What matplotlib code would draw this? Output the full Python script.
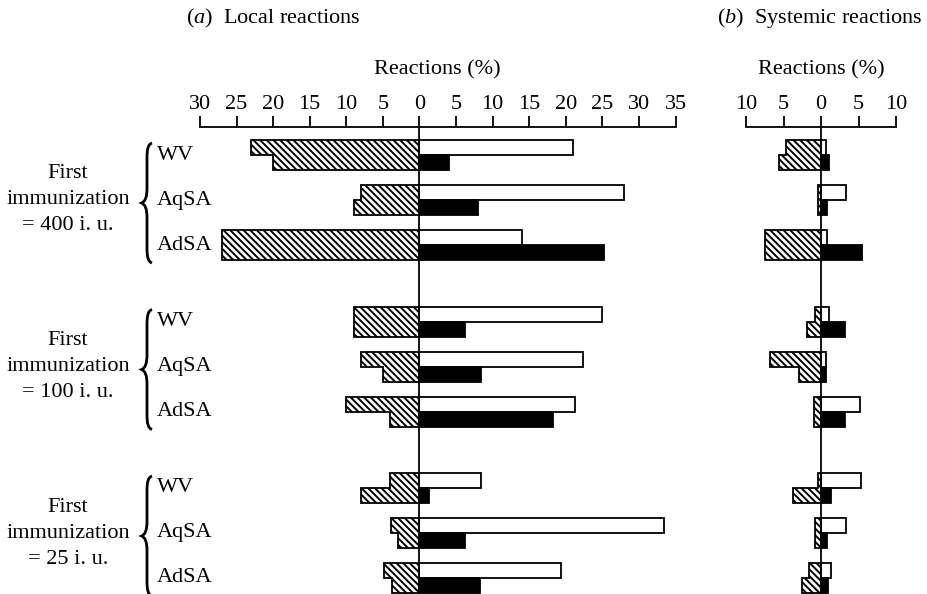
# -*- coding: utf-8 -*-
"""
plot.py
------------------------------------------------------------
Local and systemic reactions after the first immunization,
by dose (400, 100, 25 i.u.) and vaccine (WV, AqSA, AdSA).

Left of zero: hatched bars (two rows per vaccine).
Right of zero: white bar (upper row) and black bar (lower row).

Usage :
  python3 plot.py      -> out.png
"""
import numpy as np
import matplotlib
matplotlib.use("Agg")
import matplotlib.pyplot as plt
import matplotlib.transforms as mtransforms
from matplotlib.path import Path
from matplotlib.patches import PathPatch

# ─────────────────────────────────────────────────────────────────────────────
# Data (percent of reactions)
# ─────────────────────────────────────────────────────────────────────────────

DOSES = ["400", "100", "25"]
VACCINES = ["WV", "AqSA", "AdSA"]

# (a) Local reactions — one inner list per dose, in VACCINES order
LOCAL_HATCH_TOP = [[23, 8, 27], [9, 8, 10], [4, 3.9, 4.8]]
LOCAL_HATCH_BOT = [[20, 9, 27], [9, 5, 4], [8, 3.0, 3.8]]
LOCAL_WHITE = [[21, 28, 14], [25, 22.3, 21.2], [8.4, 33.4, 19.3]]
LOCAL_BLACK = [[4, 8, 25.2], [6.2, 8.4, 18.3], [1.3, 6.2, 8.3]]

# (b) Systemic reactions
SYST_HATCH_TOP = [[4.7, 0.45, 7.5], [0.8, 6.8, 0.9], [0.4, 0.8, 1.6]]
SYST_HATCH_BOT = [[5.6, 0.45, 7.5], [1.9, 3.0, 0.9], [3.7, 0.8, 2.6]]
SYST_WHITE = [[0.7, 3.3, 0.75], [1.0, 0.6, 5.2], [5.3, 3.3, 1.3]]
SYST_BLACK = [[1.0, 0.8, 5.4], [3.2, 0.65, 3.2], [1.3, 0.85, 0.9]]

LOCAL_TICKS = np.arange(-30, 36, 5)
SYST_TICKS = np.arange(-10, 11, 5)

# ─────────────────────────────────────────────────────────────────────────────
# Layout (pixels of the 927 x 594 output)
# ─────────────────────────────────────────────────────────────────────────────

W, H = 927, 594
AXIS_Y = 127            # horizontal axis line, px from top
ROW_PX = 15             # height of one bar
FIRST_TOP = (140 - AXIS_Y) / ROW_PX
VACC_STEP = 3           # rows between vaccines
GROUP_STEP = 11.1       # rows between doses
Y_MAX = (H - AXIS_Y) / ROW_PX

FS = 16
EDGE_LW = 1.3
HATCH = "\\" * 5

plt.rcParams["font.family"] = ["Liberation Serif", "DejaVu Serif"]
plt.rcParams["mathtext.fontset"] = "custom"
plt.rcParams["mathtext.rm"] = "Liberation Serif"
plt.rcParams["mathtext.it"] = "Liberation Serif:italic"
plt.rcParams["hatch.linewidth"] = 1.4
plt.rcParams["hatch.color"] = "black"


def row_tops():
    return [[FIRST_TOP + g * GROUP_STEP + v * VACC_STEP
             for v in range(len(VACCINES))] for g in range(len(DOSES))]


def make_axes(fig, x_left, x_right, ticks):
    ax = fig.add_axes([x_left / W, 0, (x_right - x_left) / W, (H - AXIS_Y) / H])
    ax.set_xlim(ticks[0], ticks[-1])
    ax.set_ylim(Y_MAX, 0)
    for s in ("left", "right", "bottom"):
        ax.spines[s].set_visible(False)
    ax.spines["top"].set_linewidth(EDGE_LW)
    ax.xaxis.tick_top()
    ax.set_xticks(ticks)
    ax.set_xticklabels([f"{abs(t):g}" for t in ticks])
    ax.tick_params(axis="x", direction="out", length=8, width=EDGE_LW,
                   pad=1.5, labelsize=FS)
    ax.set_yticks([])
    ax.patch.set_alpha(0)
    return ax


def draw_panel(ax, hatch_top, hatch_bot, white, black):
    tops = row_tops()
    for g in range(len(DOSES)):
        for v in range(len(VACCINES)):
            t = tops[g][v]
            u, l = hatch_top[g][v], hatch_bot[g][v]
            # hatched part, no stroke; outline drawn as one stepped line
            ax.barh(t + 0.5, -u, height=1, left=0, facecolor="white",
                    edgecolor="black", linewidth=0, hatch=HATCH)
            ax.barh(t + 1.5, -l, height=1, left=0, facecolor="white",
                    edgecolor="black", linewidth=0, hatch=HATCH)
            ax.plot([0, -u, -u, -l, -l, 0], [t, t, t + 1, t + 1, t + 2, t + 2],
                    color="black", lw=EDGE_LW, solid_joinstyle="miter")
            ax.barh(t + 0.5, white[g][v], height=1, left=0, facecolor="white",
                    edgecolor="black", linewidth=EDGE_LW)
            ax.barh(t + 1.5, black[g][v], height=1, left=0, facecolor="black",
                    edgecolor="black", linewidth=EDGE_LW)
    ax.axvline(0, color="black", lw=EDGE_LW)


def draw_brace(ax, trans, y0, y1, x, w_hook, w_tip):
    ym = (y0 + y1) / 2
    r = 1.0
    verts = [(x + w_hook, y0),
             (x + 0.2 * w_hook, y0 + 0.1), (x, y0 + 0.4 * r), (x, y0 + r),
             (x, ym - r),
             (x, ym - 0.4 * r), (x - 0.3 * w_tip, ym - 0.1), (x - w_tip, ym),
             (x - 0.3 * w_tip, ym + 0.1), (x, ym + 0.4 * r), (x, ym + r),
             (x, y1 - r),
             (x, y1 - 0.4 * r), (x + 0.2 * w_hook, y1 - 0.1), (x + w_hook, y1)]
    codes = [Path.MOVETO,
             Path.CURVE4, Path.CURVE4, Path.CURVE4,
             Path.LINETO,
             Path.CURVE4, Path.CURVE4, Path.CURVE4,
             Path.CURVE4, Path.CURVE4, Path.CURVE4,
             Path.LINETO,
             Path.CURVE4, Path.CURVE4, Path.CURVE4]
    ax.add_patch(PathPatch(Path(verts, codes), transform=trans, fill=False,
                           lw=2.0, edgecolor="black", clip_on=False))


def main():
    fig = plt.figure(figsize=(W / 100, H / 100), dpi=100)
    fig.patch.set_facecolor("white")

    ax_a = make_axes(fig, 200, 675.5, LOCAL_TICKS)
    ax_b = make_axes(fig, 746, 896, SYST_TICKS)

    draw_panel(ax_a, LOCAL_HATCH_TOP, LOCAL_HATCH_BOT, LOCAL_WHITE, LOCAL_BLACK)
    draw_panel(ax_b, SYST_HATCH_TOP, SYST_HATCH_BOT, SYST_WHITE, SYST_BLACK)

    # Row labels, braces and dose labels (x in figure px, y in data rows)
    trans = mtransforms.blended_transform_factory(fig.transFigure, ax_a.transData)
    tops = row_tops()
    for g, dose in enumerate(DOSES):
        for v, name in enumerate(VACCINES):
            ax_a.text(157 / W, tops[g][v] + 1, name, transform=trans,
                      ha="left", va="center", fontsize=FS, clip_on=False)
        draw_brace(ax_a, trans, tops[g][0] + 0.2, tops[g][-1] + 2.2,
                   147 / W, 5 / W, 5.5 / W)
        ax_a.text(68 / W, tops[g][1] + 1,
                  f"First\nimmunization\n= {dose} i. u.", transform=trans,
                  ha="center", va="center", multialignment="center",
                  linespacing=1.5, fontsize=FS, clip_on=False)

    # Titles and axis captions
    fig.text(186 / W, 1 - 18 / H, r"($\mathit{a}$)  Local reactions",
             ha="left", va="center", fontsize=FS)
    fig.text(717 / W, 1 - 18 / H, r"($\mathit{b}$)  Systemic reactions",
             ha="left", va="center", fontsize=FS)
    fig.text(437.7 / W, 1 - 70 / H, "Reactions (%)",
             ha="center", va="center", fontsize=FS)
    fig.text(821 / W, 1 - 70 / H, "Reactions (%)",
             ha="center", va="center", fontsize=FS)

    fig.savefig("out.png", dpi=100, facecolor="white")
    plt.close(fig)


if __name__ == "__main__":
    main()
